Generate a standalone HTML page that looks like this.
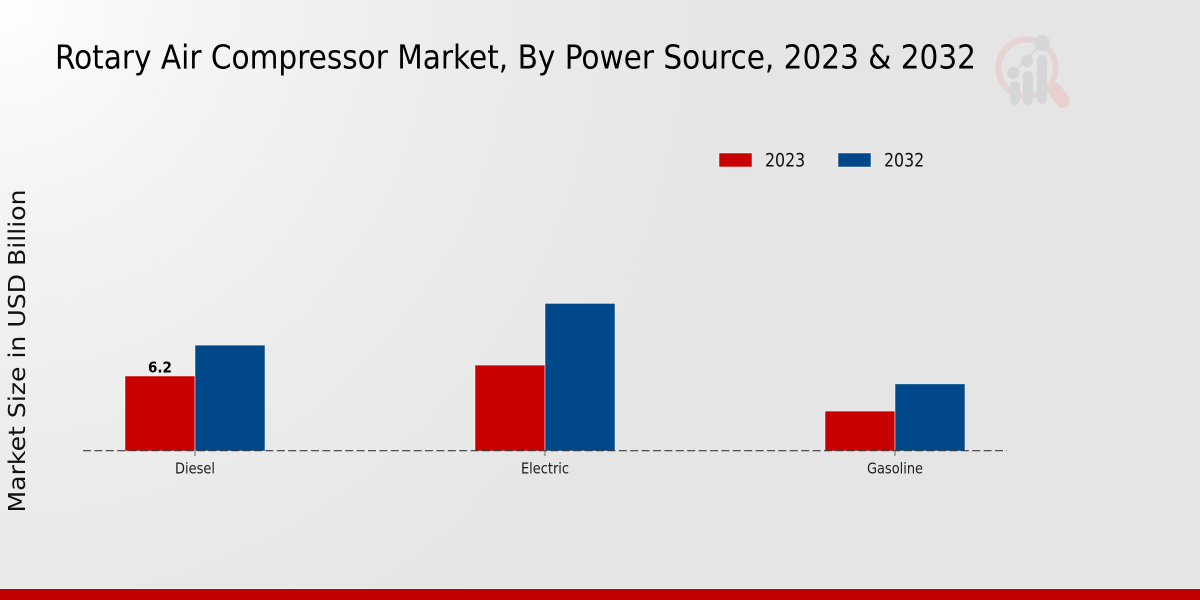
<!DOCTYPE html>
<html>
<head>
<meta charset="utf-8">
<style>
html,body{margin:0;padding:0;width:1200px;height:600px;overflow:hidden;background:#e6e6e6}
svg{display:block}
text{font-family:"DejaVu Sans","Liberation Sans",sans-serif}
.cond{font-stretch:condensed}
</style>
</head>
<body>
<svg id="chart" width="1200" height="600" viewBox="0 0 1200 600" xmlns="http://www.w3.org/2000/svg">
<defs>
<radialGradient id="bg" gradientUnits="userSpaceOnUse" cx="0" cy="0" r="760">
<stop offset="0" stop-color="#ffffff"/>
<stop offset="0.08" stop-color="#fbfbfb"/>
<stop offset="0.3" stop-color="#f3f3f3"/>
<stop offset="0.6" stop-color="#ececec"/>
<stop offset="1" stop-color="#e5e5e5"/>
</radialGradient>
</defs>
<rect width="1200" height="600" fill="url(#bg)"/>
<g>
<line x1="1055" y1="90" x2="1063" y2="101" stroke="#e8cfd0" stroke-width="14" stroke-linecap="round"/>
<circle cx="1027" cy="68" r="28.5" fill="none" stroke="#e6d3d4" stroke-width="6"/>
<rect x="1010" y="81" width="10" height="24" rx="5" fill="#d5d6d8"/>
<rect x="1023" y="71" width="10" height="34" rx="5" fill="#d5d6d8"/>
<rect x="1037" y="55" width="10" height="49" rx="5" fill="#d5d6d8"/>
<line x1="1013" y1="73" x2="1042" y2="43" stroke="#d5d6d8" stroke-width="1.5"/>
<circle cx="1013" cy="73" r="6" fill="#d5d6d8"/>
<circle cx="1027" cy="61" r="6" fill="#d5d6d8"/>
<circle cx="1042" cy="43" r="8" fill="#d5d6d8"/>
</g>
<text class="cond" x="55" y="68.5" font-size="33" fill="#000" textLength="921" lengthAdjust="spacingAndGlyphs">Rotary Air Compressor Market, By Power Source, 2023 &amp; 2032</text>
<text transform="translate(25,351) rotate(-90)" text-anchor="middle" font-size="23" fill="#111" textLength="323" lengthAdjust="spacingAndGlyphs">Market Size in USD Billion</text>
<g id="bars"></g>
<g id="axis"></g>
<g id="legend"></g>
<rect x="0" y="588" width="1200" height="1" fill="#f0f0f0"/>
<rect x="0" y="589" width="1200" height="11" fill="#c00000"/>
</svg>
<script>
const categories = ["Diesel", "Electric", "Gasoline"];
const seriesNames = ["2023", "2032"];
const values2023 = [6.2, 7.1, 3.3];
const values2032 = [8.75, 12.2, 5.55];
const valueLabels2023 = ["6.2", "", ""];

const NS = "http://www.w3.org/2000/svg";
const baseY = 451;
const pxPerUnit = 12.1;
const firstCenter = 195;
const stepX = 350;
const barW = 70;
const colors = ["#c80000", "#00488a"];

function yScale(v) { return baseY - v * pxPerUnit; }
function xScale(i) { return firstCenter + i * stepX; }
function make(tag, attrs, parent) {
  const el = document.createElementNS(NS, tag);
  for (const k in attrs) el.setAttribute(k, attrs[k]);
  parent.appendChild(el);
  return el;
}
function squeeze(el, factor) {
  const w = el.getComputedTextLength();
  el.setAttribute("textLength", w * factor);
  el.setAttribute("lengthAdjust", "spacingAndGlyphs");
}

const barsG = document.getElementById("bars");
const axisG = document.getElementById("axis");
const legendG = document.getElementById("legend");
const allSeries = [values2023, values2032];

allSeries.forEach(function (vals, s) {
  vals.forEach(function (v, i) {
    const x = xScale(i) - barW + s * barW;
    const bar = make("rect", {x: x, y: yScale(v), width: barW, height: baseY - yScale(v), fill: colors[s], stroke: "#ffffff", "stroke-opacity": 0.7, "stroke-width": 0.7}, barsG);
    
    
  });
});

valueLabels2023.forEach(function (label, i) {
  if (!label) return;
  const t = make("text", {x: xScale(i) - barW / 2, y: yScale(values2023[i]) - 3.5, "text-anchor": "middle", "font-size": 15, "font-weight": "bold", fill: "#000"}, barsG);
  
  
  t.textContent = label;
  squeeze(t, 0.9);
});

const axisLine = make("line", {x1: 83, x2: 1007, y1: baseY - 0.3, y2: baseY - 0.3, stroke: "#3c3c3c", "stroke-width": 1.2, "stroke-dasharray": "8 3.4"}, axisG);



categories.forEach(function (c, i) {
  const tick = make("line", {x1: xScale(i), x2: xScale(i), y1: baseY, y2: baseY + 5, stroke: "#666", "stroke-width": 1}, axisG);
  
  
  const t = make("text", {x: xScale(i), y: 473.5, "text-anchor": "middle", "font-size": 15.5, "class": "cond", fill: "#1c1c1c"}, axisG);
  
  
  t.textContent = c;
  squeeze(t, 0.93);
});

seriesNames.forEach(function (n, s) {
  const lx = 719 + s * 119;
  const sw = make("rect", {x: lx, y: 153, width: 33, height: 14, fill: colors[s], stroke: "#ffffff", "stroke-opacity": 0.7, "stroke-width": 0.7}, legendG);
  
  
  const t = make("text", {x: lx + 46, y: 166.5, "font-size": 18.5, "class": "cond", fill: "#111"}, legendG);
  
  
  t.textContent = n;
  squeeze(t, 0.95);
});
</script>
</body>
</html>
